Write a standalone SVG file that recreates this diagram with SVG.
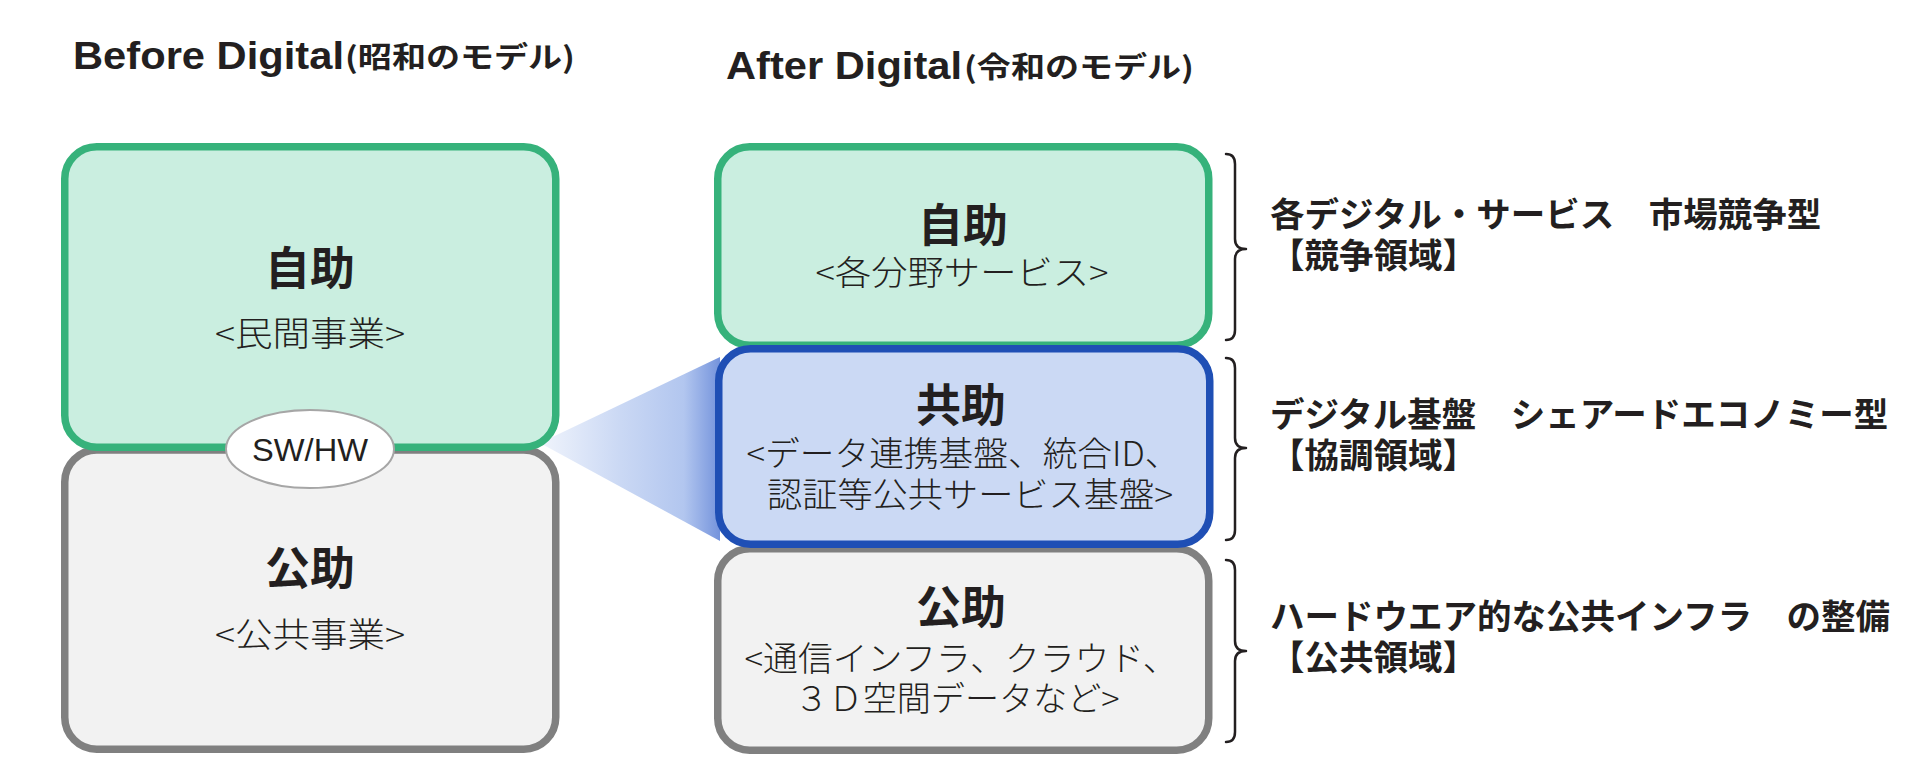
<svg xmlns="http://www.w3.org/2000/svg" width="1920" height="774" viewBox="0 0 1920 774">
  <defs>
    <linearGradient id="funnelGrad" gradientUnits="userSpaceOnUse" x1="540" y1="0" x2="720" y2="0">
      <stop offset="0" stop-color="#f0f4fc"/>
      <stop offset="0.45" stop-color="#cad8f4"/>
      <stop offset="0.8" stop-color="#b2c6ef"/>
      <stop offset="1" stop-color="#7493dc"/>
    </linearGradient>
    <style>
      .green { fill: #caeee0; stroke: #36b27b; stroke-width: 7.5; }
      .gray { fill: #f2f2f2; stroke: #808080; stroke-width: 7.5; }
      .blue { fill: #cbd9f4; stroke: #1f4fb5; stroke-width: 7.5; }
      .jp { font-family: "Noto Sans CJK JP", "Noto Sans CJK SC", sans-serif; fill: #231f20; }
      .head { font-size: 45px; font-weight: 700; text-anchor: middle; }
      .sub { font-size: 34px; font-weight: 300; text-anchor: middle; }
      .note { font-size: 34.5px; font-weight: 700; }
      .ttl-lat { font-family: "Liberation Sans", Arial, sans-serif; font-size: 38px; font-weight: 700; fill: #231f20; }
      .ttl-jp { font-size: 29px; font-weight: 700; }
      .brace { fill: none; stroke: #231f20; stroke-width: 2.5; stroke-linecap: round; stroke-linejoin: round; }
    </style>
  </defs>

  <rect width="1920" height="774" fill="#ffffff"/>

  <g id="titles">
    <text class="ttl-lat" x="73" y="69" textLength="271" lengthAdjust="spacingAndGlyphs">Before Digital</text>
    <text class="jp ttl-jp" x="345" y="68" textLength="230" lengthAdjust="spacingAndGlyphs">(昭和のモデル)</text>
    <text class="ttl-lat" x="726" y="79" textLength="236" lengthAdjust="spacingAndGlyphs">After Digital</text>
    <text class="jp ttl-jp" x="964" y="78" textLength="230" lengthAdjust="spacingAndGlyphs">(令和のモデル)</text>
  </g>

  <g id="connectors">
    <polygon id="funnel" points="540,443 720,357 720,541" fill="url(#funnelGrad)"/>
  </g>

  <g id="before-kojo">
    <rect class="gray" x="64.75" y="450" width="491" height="299.25" rx="32"/>
    <text class="jp head" x="310" y="585">公助</text>
    <text class="jp sub" x="310" y="647" textLength="190" lengthAdjust="spacingAndGlyphs">&lt;公共事業&gt;</text>
  </g>

  <g id="before-jijo">
    <rect class="green" x="64.75" y="146.75" width="491" height="300.5" rx="32"/>
    <text class="jp head" x="310" y="285">自助</text>
    <text class="jp sub" x="310" y="346" textLength="190" lengthAdjust="spacingAndGlyphs">&lt;民間事業&gt;</text>
  </g>

  <g id="sw-hw">
    <ellipse cx="310" cy="449" rx="84" ry="39" fill="#ffffff" stroke="#a6a6a6" stroke-width="2"/>
    <text x="310" y="461" text-anchor="middle" font-family="Liberation Sans, Arial, sans-serif" font-size="32" fill="#231f20" textLength="116" lengthAdjust="spacingAndGlyphs">SW/HW</text>
  </g>

  <g id="after-jijo">
    <rect class="green" x="717.75" y="146.75" width="491" height="198.5" rx="32"/>
    <text class="jp head" x="963" y="242">自助</text>
    <text class="jp sub" x="962" y="285" textLength="293" lengthAdjust="spacingAndGlyphs">&lt;各分野サービス&gt;</text>
  </g>

  <g id="after-kojo">
    <rect class="gray" x="717.75" y="548.75" width="491" height="201.5" rx="32"/>
    <text class="jp head" x="961" y="624">公助</text>
    <text class="jp sub" x="961" y="671" textLength="433" lengthAdjust="spacingAndGlyphs">&lt;通信インフラ、クラウド、</text>
    <text class="jp sub" x="957" y="711" textLength="325" lengthAdjust="spacingAndGlyphs">３Ｄ空間データなど&gt;</text>
  </g>

  <g id="after-kyojo">
    <rect class="blue" x="718.75" y="348.75" width="491" height="195.5" rx="32"/>
    <text class="jp head" x="961" y="422">共助</text>
    <text class="jp sub" x="963" y="466" textLength="433" lengthAdjust="spacingAndGlyphs">&lt;データ連携基盤、統合ID、</text>
    <text class="jp sub" x="970" y="507" textLength="406" lengthAdjust="spacingAndGlyphs">認証等公共サービス基盤&gt;</text>
  </g>

  <g id="braces">
    <path class="brace" d="M1226,154 Q1235,154 1235,164 L1235,239 Q1235,249 1246,249 Q1235,249 1235,259 L1235,330 Q1235,340 1226,340"/>
    <path class="brace" d="M1226,358 Q1235,358 1235,368 L1235,438 Q1235,448 1246,448 Q1235,448 1235,458 L1235,530 Q1235,540 1226,540"/>
    <path class="brace" d="M1226,560 Q1235,560 1235,570 L1235,641 Q1235,651 1246,651 Q1235,651 1235,661 L1235,732 Q1235,742 1226,742"/>
  </g>

  <g id="note-competition">
    <text class="jp note" x="1270" y="227">各デジタル・サービス　市場競争型</text>
    <text class="jp note" x="1270" y="268">【競争領域】</text>
  </g>
  <g id="note-cooperation">
    <text class="jp note" x="1270" y="427">デジタル基盤　シェアードエコノミー型</text>
    <text class="jp note" x="1270" y="468">【協調領域】</text>
  </g>
  <g id="note-public">
    <text class="jp note" x="1270" y="629">ハードウエア的な公共インフラ　の整備</text>
    <text class="jp note" x="1270" y="670">【公共領域】</text>
  </g>
</svg>
